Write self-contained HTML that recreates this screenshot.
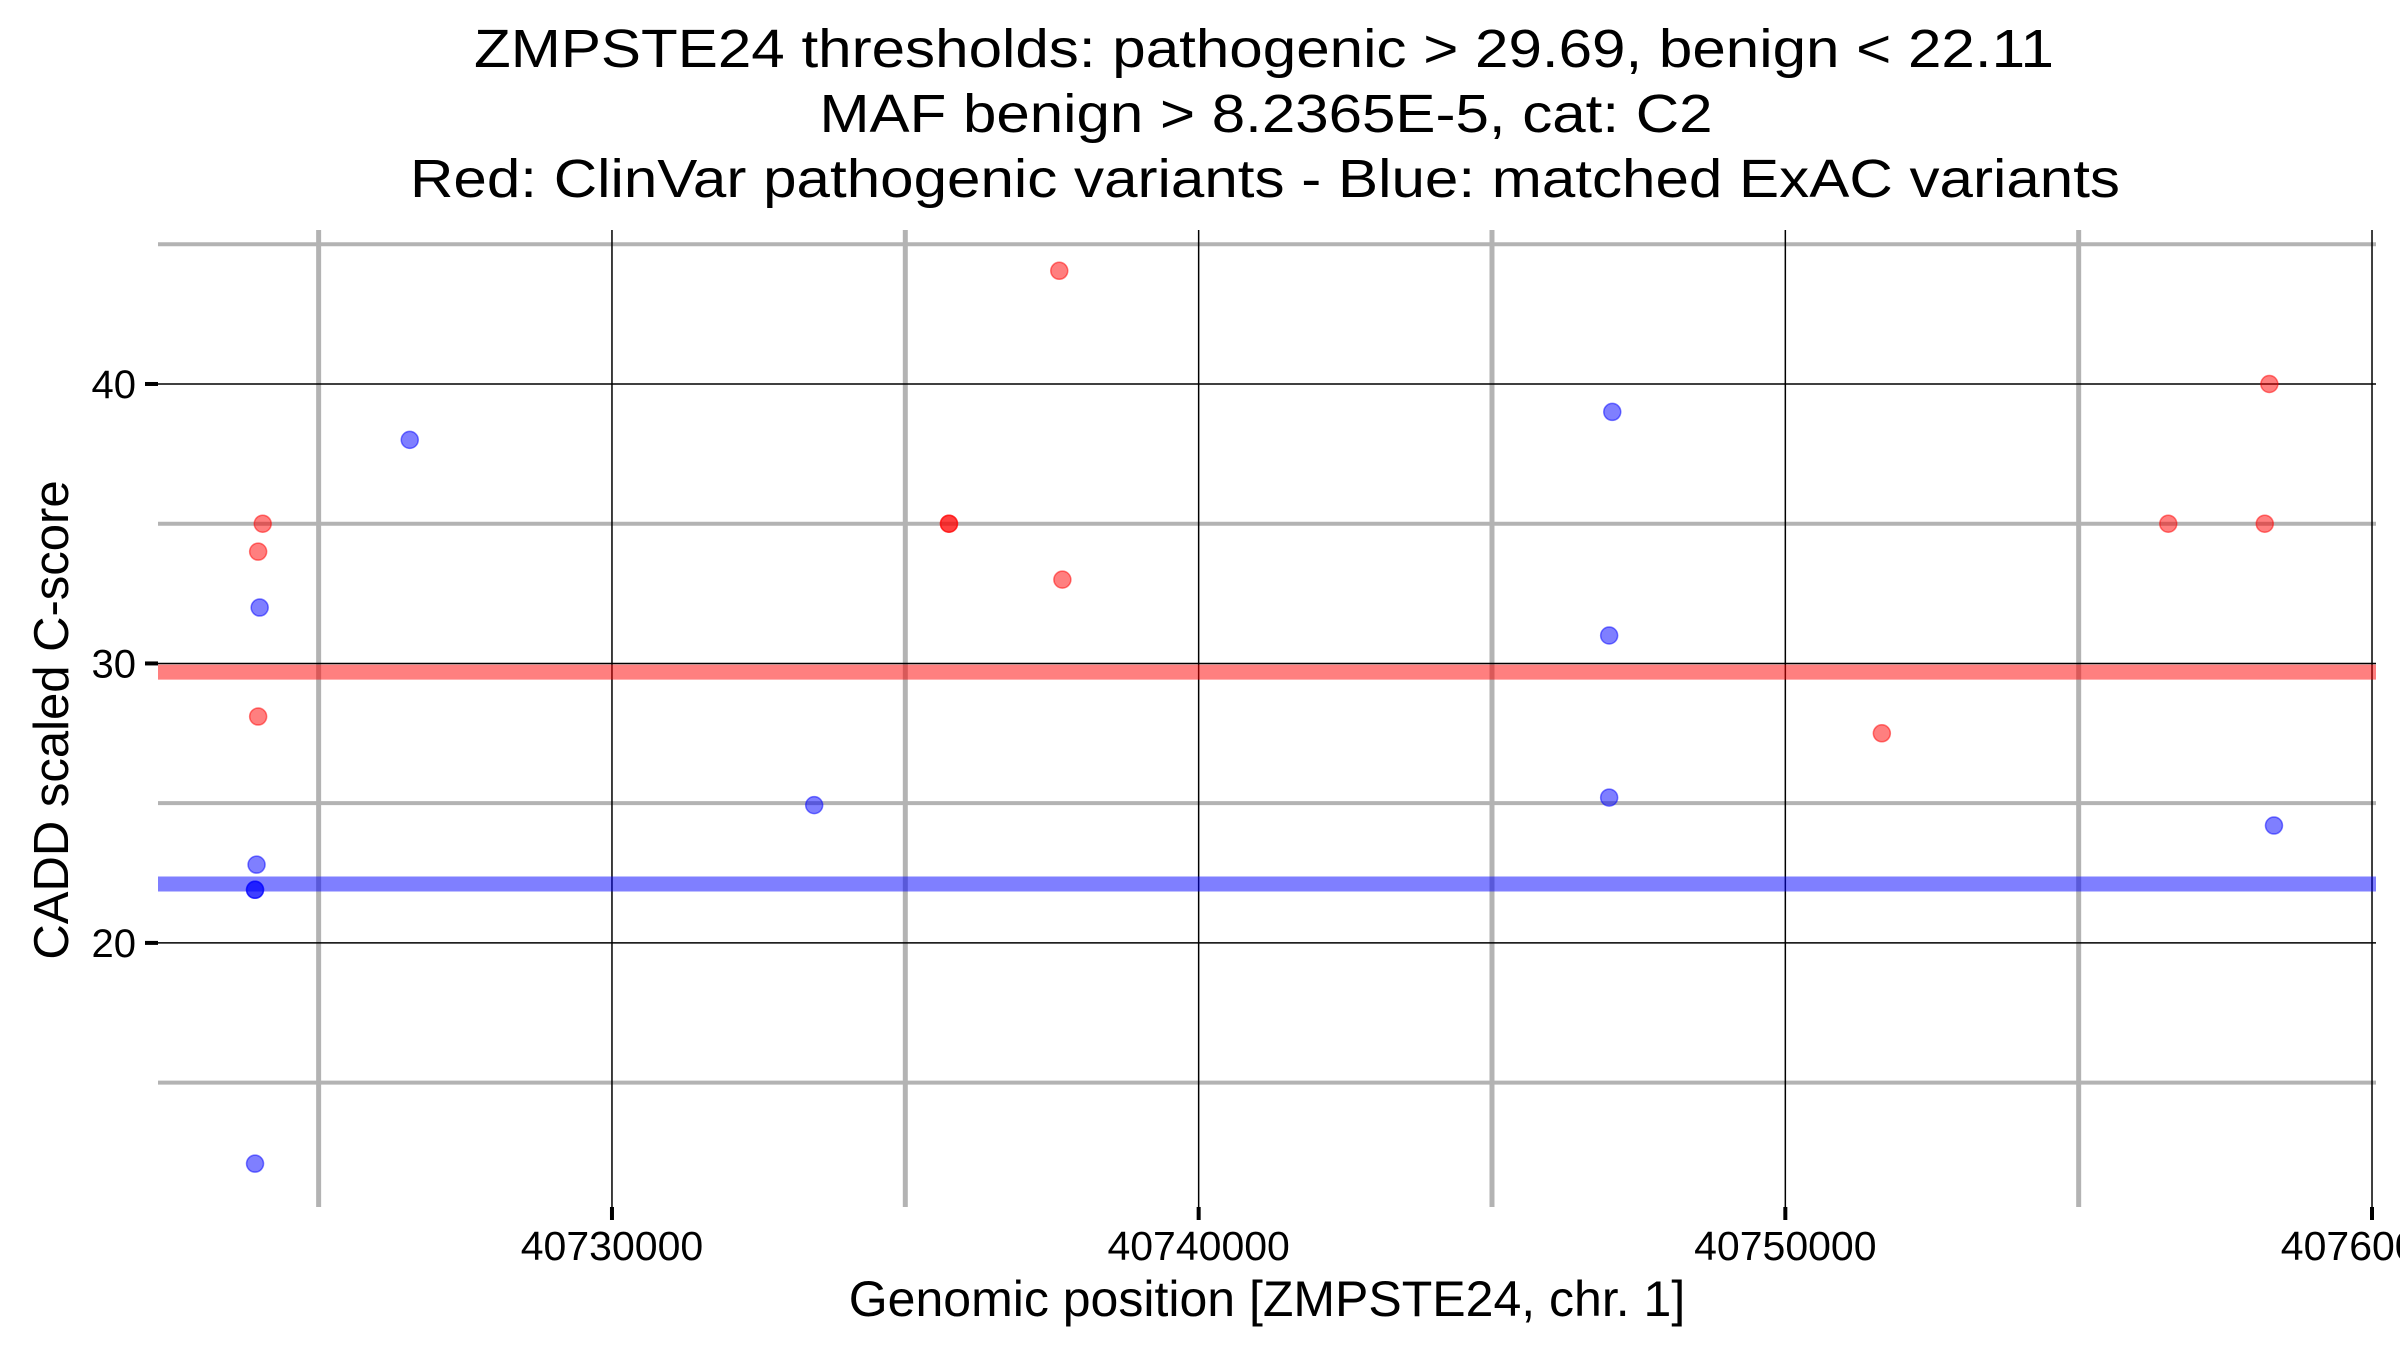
<!DOCTYPE html>
<html><head><meta charset="utf-8"><style>
html,body{margin:0;padding:0;background:#fff;}
svg{display:block;font-family:"Liberation Sans",Arial,sans-serif;}
</style></head><body>
<svg id="chart" width="2400" height="1350" viewBox="0 0 2400 1350" xmlns="http://www.w3.org/2000/svg">
<g font-size="54" text-anchor="middle" fill="#000">
<text x="1264" y="67" textLength="1580" lengthAdjust="spacingAndGlyphs">ZMPSTE24 thresholds: pathogenic &gt; 29.69, benign &lt; 22.11</text>
<text x="1266" y="132" textLength="893" lengthAdjust="spacingAndGlyphs">MAF benign &gt; 8.2365E-5, cat: C2</text>
<text x="1265" y="197" textLength="1710" lengthAdjust="spacingAndGlyphs">Red: ClinVar pathogenic variants - Blue: matched ExAC variants</text>
</g>
<g id="grid"></g>
<g id="bands"></g>
<g id="points"></g>
<g id="axes"></g>
<text x="1267" y="1316" font-size="50" text-anchor="middle">Genomic position [ZMPSTE24, chr. 1]</text>
<text transform="translate(68,720) rotate(-90)" font-size="49" text-anchor="middle">CADD scaled C-score</text>
</svg>
<script>
const xMajorTicks = [40730000, 40740000, 40750000, 40760000];
const xMinorTicks = [40725000, 40735000, 40745000, 40755000];
const yMajorTicks = [20, 30, 40];
const yMinorTicks = [15, 25, 35, 45];
const thresholds = [29.69, 22.11];
const redX = [40724047, 40723969, 40723969, 40737624, 40735744, 40735744, 40737677, 40751645, 40756527, 40758172, 40758250];
const redY = [35.0, 34.0, 28.1, 44.05, 35.0, 35.0, 33.0, 27.5, 35.0, 35.0, 40.0];
const blueX = [40726553, 40723995, 40723942, 40723916, 40723916, 40723916, 40733447, 40747050, 40746997, 40746997, 40758329];
const blueY = [38.0, 32.0, 22.8, 21.9, 21.9, 12.1, 24.93, 39.0, 31.0, 25.2, 24.2];

const L=158, R=2376, T=230, B=1207;
const xMin=40722262, xMax=40760068, yMin=10.55, yMax=45.51;
function sx(v){return L+(v-xMin)/(xMax-xMin)*(R-L);}
function sy(v){return B-(v-yMin)/(yMax-yMin)*(B-T);}
const NS='http://www.w3.org/2000/svg';
function mk(tag,attrs,parent){const e=document.createElementNS(NS,tag);for(const k in attrs)e.setAttribute(k,attrs[k]);parent.appendChild(e);return e;}
const grid=document.getElementById('grid'), bands=document.getElementById('bands'), pts=document.getElementById('points'), axes=document.getElementById('axes');
yMinorTicks.forEach(v=>{const e=mk('line',{x1:L,x2:R,y1:sy(v),y2:sy(v),stroke:'#b3b3b3','stroke-width':4},grid);

});
xMinorTicks.forEach(v=>{const e=mk('line',{x1:sx(v),x2:sx(v),y1:T,y2:B,stroke:'#b3b3b3','stroke-width':5},grid);

});
yMajorTicks.forEach(v=>{const e=mk('line',{x1:L,x2:R,y1:sy(v),y2:sy(v),stroke:'#000','stroke-width':1.5},grid);


const t=mk('line',{x1:L-13,x2:L,y1:sy(v),y2:sy(v),stroke:'#000','stroke-width':4},axes);


const l=mk('text',{x:L-22,y:sy(v)+14,'font-size':40,'text-anchor':'end'},axes);l.textContent=v;

});
xMajorTicks.forEach(v=>{const e=mk('line',{x1:sx(v),x2:sx(v),y1:T,y2:B,stroke:'#000','stroke-width':1.5},grid);


const t=mk('line',{x1:sx(v),x2:sx(v),y1:B,y2:B+13,stroke:'#000','stroke-width':4},axes);


const l=mk('text',{x:sx(v),y:1260,'font-size':41,'text-anchor':'middle'},axes);l.textContent=v;

});
const bandColors=['rgba(255,0,0,0.5)','rgba(0,0,255,0.5)'];
thresholds.forEach((v,i)=>{const e=mk('line',{x1:L,x2:R,y1:sy(v),y2:sy(v),stroke:bandColors[i],'stroke-width':15},bands);

});
redX.forEach((x,i)=>{const c=mk('circle',{cx:sx(x),cy:sy(redY[i]),r:8.5,fill:'rgba(255,0,0,0.5)',stroke:'rgba(255,0,0,0.5)','stroke-width':1.5},pts);

});
blueX.forEach((x,i)=>{const c=mk('circle',{cx:sx(x),cy:sy(blueY[i]),r:8.5,fill:'rgba(0,0,255,0.5)',stroke:'rgba(0,0,255,0.5)','stroke-width':1.5},pts);

});
</script>
</body></html>
